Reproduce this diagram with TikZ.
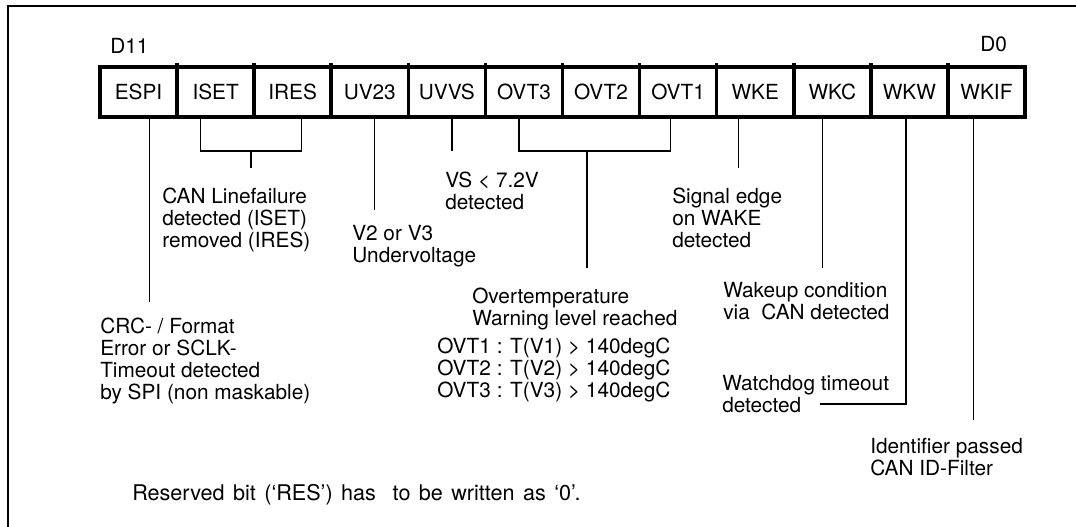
\documentclass[tikz,border=0pt]{standalone}
\usepackage{fontspec}
\setmainfont{TeX Gyre Heros}
\newcommand\lblfont{\fontsize{15.6}{16.4}\selectfont}
\newcommand\resfont{\fontsize{16.2}{17}\selectfont\spaceskip=1.4\fontdimen2\font plus 1\fontdimen3\font minus 1\fontdimen4\font\relax}
\begin{document}
\begin{tikzpicture}[x=0.75pt,y=-0.75pt,
  cell/.style={draw, line width=2.7pt, minimum width=57.81pt, minimum height=37.5pt, inner sep=0pt, outer sep=0pt, font=\lblfont},
  tick/.style={line width=2.7pt},
  conn/.style={line width=1.1pt},
  frame/.style={line width=1.1pt},
  lbl/.style={anchor=north west, inner sep=0pt, align=left, font=\lblfont}]
\useasboundingbox (0,0) rectangle (1076,527);
% frame
\coordinate (fTL) at (8,6);
\coordinate (fTR) at (1076,6);
\coordinate (fBL) at (8,527);
\draw[frame] (fBL) -- (fTL) -- (fTR);
% register
\node[cell] (c1) at (138.54,92) {ESPI};
\node[cell] (c2) at (215.62,92) {ISET};
\node[cell] (c3) at (292.71,92) {IRES};
\node[cell] (c4) at (369.79,92) {UV23};
\node[cell] (c5) at (446.87,92) {UVVS};
\node[cell] (c6) at (523.96,92) {OVT3};
\node[cell] (c7) at (601.04,92) {OVT2};
\node[cell] (c8) at (678.12,92) {OVT1};
\node[cell] (c9) at (755.21,92) {WKE};
\node[cell] (c10) at (832.29,92) {WKC};
\node[cell] (c11) at (909.37,92) {WKW};
\node[cell] (c12) at (986.46,92) {WKIF};
\foreach \i in {2,...,12} \draw[tick] (c\i.north west) -- ++(0,-3.5);
\node[lbl] (d11) at (110,38) {D11};
\node[lbl] (d0) at (980,36) {D0};
% connectors
\coordinate (espiE) at (149.5,302);
\draw[conn] (espiE |- c1.south) -- (espiE);
\coordinate (isetB) at (200.5,151);
\coordinate (iresB) at (301.5,151);
\coordinate (canS) at (251,168);
\draw[conn] (isetB |- c2.south) -- (isetB) -- (iresB) -- (iresB |- c3.south);
\draw[conn] (canS |- isetB) -- (canS);
\coordinate (uvE) at (374.5,210);
\draw[conn] (uvE |- c4.south) -- (uvE);
\coordinate (vsE) at (452,151.5);
\draw[conn] (vsE |- c5.south) -- (vsE);
\coordinate (ovt3B) at (519,151);
\coordinate (ovt1B) at (670.5,151);
\coordinate (ovtS) at (587,268);
\draw[conn] (ovt3B |- c6.south) -- (ovt3B) -- (ovt1B) -- (ovt1B |- c8.south);
\draw[conn] (ovtS |- ovt3B) -- (ovtS);
\coordinate (wkeE) at (738.5,168);
\draw[conn] (wkeE |- c9.south) -- (wkeE);
\coordinate (wkcE) at (822.5,268);
\draw[conn] (wkcE |- c10.south) -- (wkcE);
\coordinate (wkwC) at (906,404);
\coordinate (wkwE) at (820,404);
\draw[conn] (wkwC |- c11.south) -- (wkwC) -- (wkwE);
\coordinate (wkifE) at (973.5,420);
\draw[conn] (wkifE |- c12.south) -- (wkifE);
% labels
\node[lbl] (tCAN) at (162,188) {CAN Linefailure\\detected (ISET)\\removed (IRES)};
\node[lbl] (tUV) at (352,225) {V2 or V3\\Undervoltage};
\node[lbl] (tVS) at (445,172) {VS < 7.2V\\detected};
\node[lbl] (tSig) at (672,188) {Signal edge\\on WAKE\\detected};
\node[lbl] (tOvt) at (472,288) {Overtemperature\\Warning level reached};
\node[lbl] (tOvtL) at (437,338) {OVT1 : T(V1) > 140degC\\OVT2 : T(V2) > 140degC\\OVT3 : T(V3) > 140degC};
\node[lbl] (tWk) at (723,282) {Wakeup condition\\via\ \ CAN detected};
\node[lbl] (tWd) at (722,375) {Watchdog timeout\\detected};
\node[lbl] (tId) at (870,438) {Identifier passed\\CAN ID-Filter};
\node[lbl] (tCRC) at (100,318) {CRC- / Format\\Error or SCLK-\\Timeout detected\\by SPI (non maskable)};
\node[lbl, font=\resfont] (tRes) at (132,484) {Reserved bit (‘RES’) has\ \ to be written as ‘0’.};
\end{tikzpicture}
\end{document}
